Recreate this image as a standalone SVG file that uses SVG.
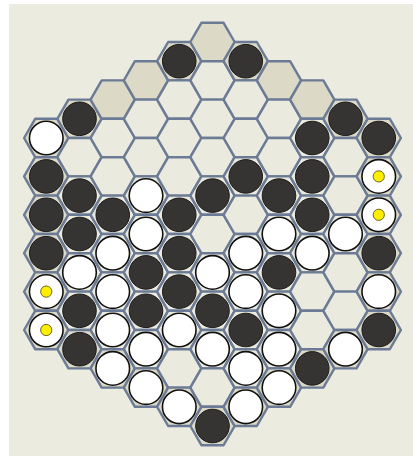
<svg xmlns="http://www.w3.org/2000/svg" xmlns:xlink="http://www.w3.org/1999/xlink" width="413" height="456" viewBox="0 0 413 456">
<style>
.hx{fill:#eaeade;stroke:#6c7b95;stroke-width:2.4;stroke-linejoin:round}
.ed{fill:#dcd9c7}
.bk{fill:#363432;stroke:#1c1b1a;stroke-width:1}
.wt{fill:#ffffff;stroke:#111111;stroke-width:1.6}
.dot{fill:#ffee00;stroke:#6a6420;stroke-width:1}
</style>
<defs>
<polygon id="hex" points="-22.17,0 -11.08,-19.2 11.08,-19.2 22.17,0 11.08,19.2 -11.08,19.2"/>
<circle id="st" r="16.8"/>
<circle id="yd" r="5.6"/>
</defs>
<rect x="0" y="0" width="413" height="456" fill="#ffffff"/>
<rect x="9" y="4" width="404" height="452" fill="#ebebe0"/>
<g id="connectors"></g>
<g id="board">
<!-- col -5 x=46.25 -->
<g id="c_m5_0"><use href="#hex" class="hx ed" x="46.25" y="138"/><use href="#st" class="wt" x="46.25" y="138"/></g>
<g id="c_m5_1"><use href="#hex" class="hx ed" x="46.25" y="176.4"/><use href="#st" class="bk" x="46.25" y="176.4"/></g>
<g id="c_m5_2"><use href="#hex" class="hx ed" x="46.25" y="214.8"/><use href="#st" class="bk" x="46.25" y="214.8"/></g>
<g id="c_m5_3"><use href="#hex" class="hx ed" x="46.25" y="253.2"/><use href="#st" class="bk" x="46.25" y="253.2"/></g>
<g id="c_m5_4"><use href="#hex" class="hx ed" x="46.25" y="291.6"/><use href="#st" class="wt" x="46.25" y="291.6"/><use href="#yd" class="dot" x="46.25" y="291.6"/></g>
<g id="c_m5_5"><use href="#hex" class="hx ed" x="46.25" y="330"/><use href="#st" class="wt" x="46.25" y="330"/><use href="#yd" class="dot" x="46.25" y="330"/></g>
<!-- col -4 x=79.5 -->
<g id="c_m4_0"><use href="#hex" class="hx ed" x="79.5" y="118.8"/><use href="#st" class="bk" x="79.5" y="118.8"/></g>
<g id="c_m4_1"><use href="#hex" class="hx" x="79.5" y="157.2"/></g>
<g id="c_m4_2"><use href="#hex" class="hx" x="79.5" y="195.6"/><use href="#st" class="bk" x="79.5" y="195.6"/></g>
<g id="c_m4_3"><use href="#hex" class="hx" x="79.5" y="234"/><use href="#st" class="bk" x="79.5" y="234"/></g>
<g id="c_m4_4"><use href="#hex" class="hx" x="79.5" y="272.4"/><use href="#st" class="wt" x="79.5" y="272.4"/></g>
<g id="c_m4_5"><use href="#hex" class="hx" x="79.5" y="310.8"/><use href="#st" class="bk" x="79.5" y="310.8"/></g>
<g id="c_m4_6"><use href="#hex" class="hx ed" x="79.5" y="349.2"/><use href="#st" class="bk" x="79.5" y="349.2"/></g>
<!-- col -3 x=112.75 -->
<g id="c_m3_0"><use href="#hex" class="hx ed" x="112.75" y="99.6"/></g>
<g id="c_m3_1"><use href="#hex" class="hx" x="112.75" y="138"/></g>
<g id="c_m3_2"><use href="#hex" class="hx" x="112.75" y="176.4"/></g>
<g id="c_m3_3"><use href="#hex" class="hx" x="112.75" y="214.8"/><use href="#st" class="bk" x="112.75" y="214.8"/></g>
<g id="c_m3_4"><use href="#hex" class="hx" x="112.75" y="253.2"/><use href="#st" class="wt" x="112.75" y="253.2"/></g>
<g id="c_m3_5"><use href="#hex" class="hx" x="112.75" y="291.6"/><use href="#st" class="wt" x="112.75" y="291.6"/></g>
<g id="c_m3_6"><use href="#hex" class="hx" x="112.75" y="330"/><use href="#st" class="wt" x="112.75" y="330"/></g>
<g id="c_m3_7"><use href="#hex" class="hx ed" x="112.75" y="368.4"/><use href="#st" class="wt" x="112.75" y="368.4"/></g>
<!-- col -2 x=146 -->
<g id="c_m2_0"><use href="#hex" class="hx ed" x="146" y="80.4"/></g>
<g id="c_m2_1"><use href="#hex" class="hx" x="146" y="118.8"/></g>
<g id="c_m2_2"><use href="#hex" class="hx" x="146" y="157.2"/></g>
<g id="c_m2_3"><use href="#hex" class="hx" x="146" y="195.6"/><use href="#st" class="wt" x="146" y="195.6"/></g>
<g id="c_m2_4"><use href="#hex" class="hx" x="146" y="234"/><use href="#st" class="wt" x="146" y="234"/></g>
<g id="c_m2_5"><use href="#hex" class="hx" x="146" y="272.4"/><use href="#st" class="bk" x="146" y="272.4"/></g>
<g id="c_m2_6"><use href="#hex" class="hx" x="146" y="310.8"/><use href="#st" class="bk" x="146" y="310.8"/></g>
<g id="c_m2_7"><use href="#hex" class="hx" x="146" y="349.2"/><use href="#st" class="wt" x="146" y="349.2"/></g>
<g id="c_m2_8"><use href="#hex" class="hx ed" x="146" y="387.6"/><use href="#st" class="wt" x="146" y="387.6"/></g>
<!-- col -1 x=179.25 -->
<g id="c_m1_0"><use href="#hex" class="hx ed" x="179.25" y="61.2"/><use href="#st" class="bk" x="179.25" y="61.2"/></g>
<g id="c_m1_1"><use href="#hex" class="hx" x="179.25" y="99.6"/></g>
<g id="c_m1_2"><use href="#hex" class="hx" x="179.25" y="138"/></g>
<g id="c_m1_3"><use href="#hex" class="hx" x="179.25" y="176.4"/></g>
<g id="c_m1_4"><use href="#hex" class="hx" x="179.25" y="214.8"/><use href="#st" class="bk" x="179.25" y="214.8"/></g>
<g id="c_m1_5"><use href="#hex" class="hx" x="179.25" y="253.2"/><use href="#st" class="bk" x="179.25" y="253.2"/></g>
<g id="c_m1_6"><use href="#hex" class="hx" x="179.25" y="291.6"/><use href="#st" class="bk" x="179.25" y="291.6"/></g>
<g id="c_m1_7"><use href="#hex" class="hx" x="179.25" y="330"/><use href="#st" class="wt" x="179.25" y="330"/></g>
<g id="c_m1_8"><use href="#hex" class="hx" x="179.25" y="368.4"/></g>
<g id="c_m1_9"><use href="#hex" class="hx ed" x="179.25" y="406.8"/><use href="#st" class="wt" x="179.25" y="406.8"/></g>
<!-- col 0 x=212.5 -->
<g id="c_0_0"><use href="#hex" class="hx ed" x="212.5" y="42"/></g>
<g id="c_0_1"><use href="#hex" class="hx" x="212.5" y="80.4"/></g>
<g id="c_0_2"><use href="#hex" class="hx" x="212.5" y="118.8"/></g>
<g id="c_0_3"><use href="#hex" class="hx" x="212.5" y="157.2"/></g>
<g id="c_0_4"><use href="#hex" class="hx" x="212.5" y="195.6"/><use href="#st" class="bk" x="212.5" y="195.6"/></g>
<g id="c_0_5"><use href="#hex" class="hx" x="212.5" y="234"/></g>
<g id="c_0_6"><use href="#hex" class="hx" x="212.5" y="272.4"/><use href="#st" class="wt" x="212.5" y="272.4"/></g>
<g id="c_0_7"><use href="#hex" class="hx" x="212.5" y="310.8"/><use href="#st" class="bk" x="212.5" y="310.8"/></g>
<g id="c_0_8"><use href="#hex" class="hx" x="212.5" y="349.2"/><use href="#st" class="wt" x="212.5" y="349.2"/></g>
<g id="c_0_9"><use href="#hex" class="hx" x="212.5" y="387.6"/></g>
<g id="c_0_10"><use href="#hex" class="hx ed" x="212.5" y="426"/><use href="#st" class="bk" x="212.5" y="426"/></g>
<!-- col 1 x=245.75 -->
<g id="c_1_0"><use href="#hex" class="hx ed" x="245.75" y="61.2"/><use href="#st" class="bk" x="245.75" y="61.2"/></g>
<g id="c_1_1"><use href="#hex" class="hx" x="245.75" y="99.6"/></g>
<g id="c_1_2"><use href="#hex" class="hx" x="245.75" y="138"/></g>
<g id="c_1_3"><use href="#hex" class="hx" x="245.75" y="176.4"/><use href="#st" class="bk" x="245.75" y="176.4"/></g>
<g id="c_1_4"><use href="#hex" class="hx" x="245.75" y="214.8"/></g>
<g id="c_1_5"><use href="#hex" class="hx" x="245.75" y="253.2"/><use href="#st" class="wt" x="245.75" y="253.2"/></g>
<g id="c_1_6"><use href="#hex" class="hx" x="245.75" y="291.6"/><use href="#st" class="wt" x="245.75" y="291.6"/></g>
<g id="c_1_7"><use href="#hex" class="hx" x="245.75" y="330"/><use href="#st" class="bk" x="245.75" y="330"/></g>
<g id="c_1_8"><use href="#hex" class="hx" x="245.75" y="368.4"/><use href="#st" class="wt" x="245.75" y="368.4"/></g>
<g id="c_1_9"><use href="#hex" class="hx ed" x="245.75" y="406.8"/><use href="#st" class="wt" x="245.75" y="406.8"/></g>
<!-- col 2 x=279 -->
<g id="c_2_0"><use href="#hex" class="hx ed" x="279" y="80.4"/></g>
<g id="c_2_1"><use href="#hex" class="hx" x="279" y="118.8"/></g>
<g id="c_2_2"><use href="#hex" class="hx" x="279" y="157.2"/></g>
<g id="c_2_3"><use href="#hex" class="hx" x="279" y="195.6"/><use href="#st" class="bk" x="279" y="195.6"/></g>
<g id="c_2_4"><use href="#hex" class="hx" x="279" y="234"/><use href="#st" class="wt" x="279" y="234"/></g>
<g id="c_2_5"><use href="#hex" class="hx" x="279" y="272.4"/><use href="#st" class="bk" x="279" y="272.4"/></g>
<g id="c_2_6"><use href="#hex" class="hx" x="279" y="310.8"/><use href="#st" class="wt" x="279" y="310.8"/></g>
<g id="c_2_7"><use href="#hex" class="hx" x="279" y="349.2"/><use href="#st" class="wt" x="279" y="349.2"/></g>
<g id="c_2_8"><use href="#hex" class="hx ed" x="279" y="387.6"/><use href="#st" class="wt" x="279" y="387.6"/></g>
<!-- col 3 x=312.25 -->
<g id="c_3_0"><use href="#hex" class="hx ed" x="312.25" y="99.6"/></g>
<g id="c_3_1"><use href="#hex" class="hx" x="312.25" y="138"/><use href="#st" class="bk" x="312.25" y="138"/></g>
<g id="c_3_2"><use href="#hex" class="hx" x="312.25" y="176.4"/><use href="#st" class="bk" x="312.25" y="176.4"/></g>
<g id="c_3_3"><use href="#hex" class="hx" x="312.25" y="214.8"/><use href="#st" class="bk" x="312.25" y="214.8"/></g>
<g id="c_3_4"><use href="#hex" class="hx" x="312.25" y="253.2"/><use href="#st" class="wt" x="312.25" y="253.2"/></g>
<g id="c_3_5"><use href="#hex" class="hx" x="312.25" y="291.6"/></g>
<g id="c_3_6"><use href="#hex" class="hx" x="312.25" y="330"/></g>
<g id="c_3_7"><use href="#hex" class="hx ed" x="312.25" y="368.4"/><use href="#st" class="bk" x="312.25" y="368.4"/></g>
<!-- col 4 x=345.5 -->
<g id="c_4_0"><use href="#hex" class="hx ed" x="345.5" y="118.8"/><use href="#st" class="bk" x="345.5" y="118.8"/></g>
<g id="c_4_1"><use href="#hex" class="hx" x="345.5" y="157.2"/></g>
<g id="c_4_2"><use href="#hex" class="hx" x="345.5" y="195.6"/></g>
<g id="c_4_3"><use href="#hex" class="hx" x="345.5" y="234"/><use href="#st" class="wt" x="345.5" y="234"/></g>
<g id="c_4_4"><use href="#hex" class="hx" x="345.5" y="272.4"/></g>
<g id="c_4_5"><use href="#hex" class="hx" x="345.5" y="310.8"/></g>
<g id="c_4_6"><use href="#hex" class="hx ed" x="345.5" y="349.2"/><use href="#st" class="wt" x="345.5" y="349.2"/></g>
<!-- col 5 x=378.75 -->
<g id="c_5_0"><use href="#hex" class="hx ed" x="378.75" y="138"/><use href="#st" class="bk" x="378.75" y="138"/></g>
<g id="c_5_1"><use href="#hex" class="hx ed" x="378.75" y="176.4"/><use href="#st" class="wt" x="378.75" y="176.4"/><use href="#yd" class="dot" x="378.75" y="176.4"/></g>
<g id="c_5_2"><use href="#hex" class="hx ed" x="378.75" y="214.8"/><use href="#st" class="wt" x="378.75" y="214.8"/><use href="#yd" class="dot" x="378.75" y="214.8"/></g>
<g id="c_5_3"><use href="#hex" class="hx ed" x="378.75" y="253.2"/><use href="#st" class="bk" x="378.75" y="253.2"/></g>
<g id="c_5_4"><use href="#hex" class="hx ed" x="378.75" y="291.6"/><use href="#st" class="wt" x="378.75" y="291.6"/></g>
<g id="c_5_5"><use href="#hex" class="hx ed" x="378.75" y="330"/><use href="#st" class="bk" x="378.75" y="330"/></g>
</g>
</svg>
